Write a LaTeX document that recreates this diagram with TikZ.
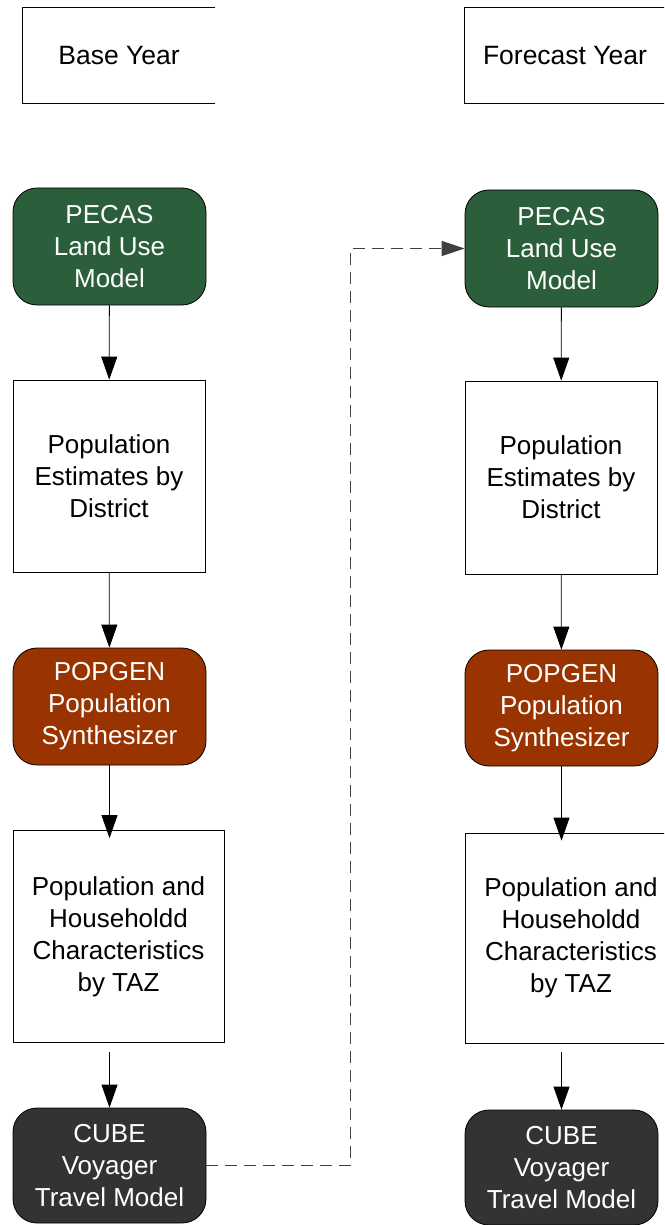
\documentclass[tikz,border=0pt]{standalone}
\usepackage{fontspec}
\setmainfont{Liberation Sans}
\usetikzlibrary{arrows.meta, positioning, calc}
\usepackage{xcolor}
\definecolor{pgreen}{RGB}{43,94,59}
\definecolor{prust}{RGB}{153,51,0}
\definecolor{pgray}{RGB}{51,51,51}

\begin{document}
\begin{tikzpicture}[x=1pt,y=-1pt,
  model/.style={rectangle,rounded corners=24pt,draw,line width=0.8pt,text=white,
               font=\fontsize{26}{32}\selectfont,minimum width=193pt,minimum height=117pt,
               inner sep=0pt,align=center},
  data/.style={rectangle,draw,line width=0.8pt,fill=white,
               font=\fontsize{26}{32}\selectfont,inner sep=0pt,align=center},
  yearbox/.style={rectangle,font=\fontsize{26.5}{32}\selectfont,inner sep=0pt,
               minimum width=192pt,minimum height=95pt},
  arr/.style={-{Triangle[length=23pt,width=16pt]},black,line width=0.8pt},
  link/.style={-{Triangle[length=23pt,width=15pt]},black!75,line width=1pt,dash pattern=on 12pt off 7pt}
]
\useasboundingbox (0,0) rectangle (664,1225);
\clip (0,0) rectangle (664,1225);
\fill[white] (0,0) rectangle (664,1225);

% base year column
\node[yearbox] (base) at (119,55.5) {Base Year};
\draw[line width=0.8pt] (base.north east) -- (base.north west) -- (base.south west) -- (base.south east);
\node[model,fill=pgreen] (pecasA) at (109.5,246.5) {PECAS\\Land Use\\Model};
\node[data,minimum width=192pt,minimum height=192pt] (popA) at (109,476) {Population\\Estimates by\\District};
\node[model,fill=prust] (synA) at (109.5,706.5) {POPGEN\\Population\\Synthesizer};
\node[data,minimum width=211pt,minimum height=212pt] (hhA) at (118.5,936.5) {Population and\\Householdd\\Characteristics\\by TAZ};
\node[model,fill=pgray,minimum height=115pt] (cubeA) at (109.5,1165.5) {CUBE\\Voyager\\Travel Model};

% forecast year column
\node[yearbox,minimum width=200pt] (fore) at (565,55.5) {Forecast Year};
\draw[line width=0.8pt] (fore.north east) -- (fore.north west) -- (fore.south west) -- (fore.south east);
\node[model,fill=pgreen] (pecasB) at (561.5,248.5) {PECAS\\Land Use\\Model};
\node[data,minimum width=192pt,minimum height=193pt] (popB) at (561,477.5) {Population\\Estimates by\\District};
\node[model,fill=prust,minimum height=116pt] (synB) at (561.5,708) {POPGEN\\Population\\Synthesizer};
\node[data,minimum width=212pt,minimum height=210pt] (hhB) at (571,938) {Population and\\Householdd\\Characteristics\\by TAZ};
\node[model,fill=pgray,minimum height=115pt] (cubeB) at (561.5,1167.5) {CUBE\\Voyager\\Travel Model};

\draw[arr] (pecasA) -- (popA);
\draw[arr] (popA) -- (synA);
\draw[arr] (synA.south) -- ($(synA.south |- hhA.north)+(0,8)$);
\draw[arr,shorten <=9pt] (synA.south |- hhA.south) -- (cubeA.north);

\draw[arr] (pecasB) -- (popB);
\draw[arr] (popB) -- (synB);
\draw[arr] (synB.south) -- ($(synB.south |- hhB.north)+(0,8)$);
\draw[arr,shorten <=9pt] (synB.south |- hhB.south) -- (cubeB.north);

\draw[link] (cubeA.east) -- ++(144,0) |- (pecasB.west);
\end{tikzpicture}
\end{document}
